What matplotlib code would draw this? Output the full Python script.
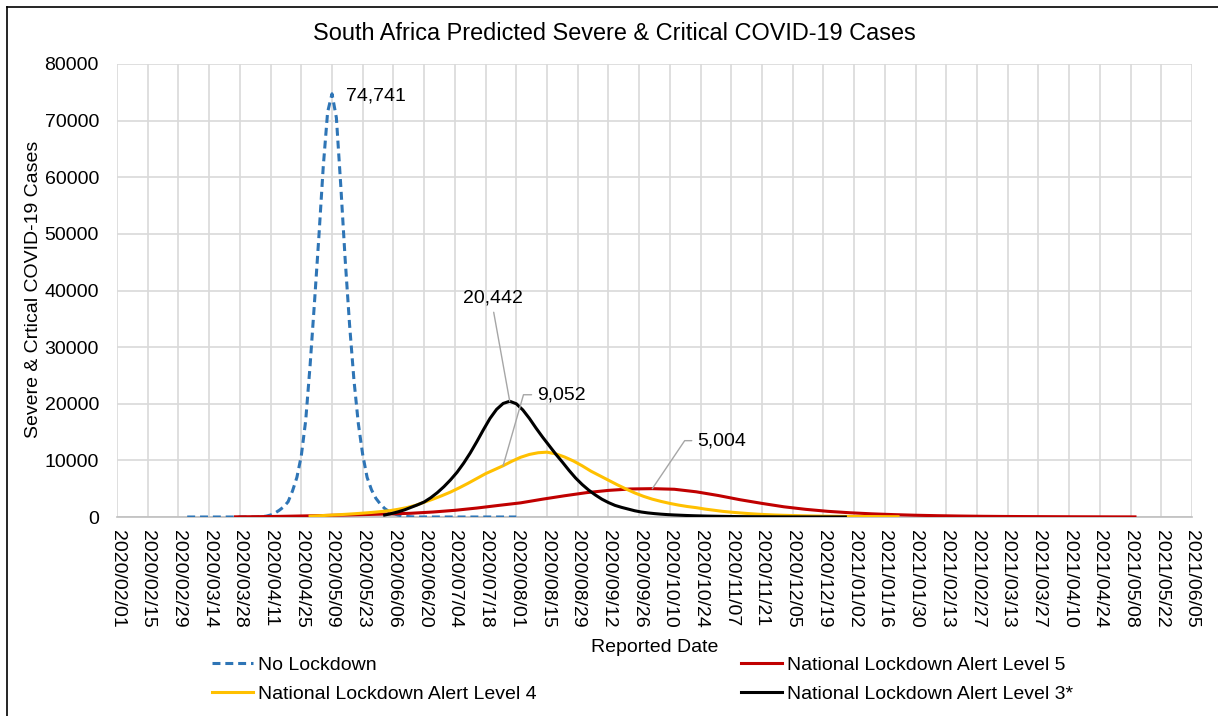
import pandas as pd
import matplotlib
matplotlib.use("Agg")
import matplotlib.pyplot as plt
import matplotlib.dates as mdates
from matplotlib.lines import Line2D

plt.rcParams['font.family'] = ['Liberation Sans', 'DejaVu Sans']

# --- Data (each series: first date, step in days, values) ---
title = "South Africa Predicted Severe & Critical COVID-19 Cases"
y_label = "Severe & Crtical COVID-19 Cases"
x_label = "Reported Date"

no_lockdown_start, no_lockdown_step = "2020-03-04", 2
no_lockdown = [0, 0, 0, 0, 0, 0, 0, 0, 0, 0, 0, 0, 0, 0, 0, 0, 0,
               50, 150, 350, 700, 1200, 1800, 2700, 4600, 7000, 10800,
               17000, 26700, 37800, 49400, 61800, 71500, 74741, 70500,
               58500, 45500, 34000, 24200, 16500, 11000, 7000, 4800, 3300,
               2300, 1500, 950, 600, 350, 200, 100, 40,
               0, 0, 0, 0, 0, 0, 0, 0, 0, 0, 0, 0, 0, 0, 0, 0, 0, 0, 0, 0,
               0, 0, 0, 0]

level5_start, level5_step = "2020-03-26", 10
level5 = [30, 60, 110, 180, 260, 350, 440, 540, 660, 880, 1180, 1580, 2050,
          2500, 3150, 3750, 4300, 4700, 4950, 5004, 4900, 4450, 3800, 3050,
          2400, 1800, 1350, 1000, 750, 560, 420, 310, 230, 170, 125, 95, 75,
          60, 45, 35, 25, 20]

level4_start, level4_step = "2020-04-29", 4
level4 = [150, 220, 300, 380, 470, 570, 680, 800, 950, 1100, 1350, 1650,
          2050, 2600, 3150, 3750, 4400, 5150, 5950, 6800, 7650, 8350, 9052,
          9850, 10550, 11050, 11350, 11450, 11150, 10600, 9900, 9050, 8100,
          7300, 6500, 5700, 4950, 4250, 3650, 3150, 2750, 2400, 2100, 1850,
          1650, 1400, 1200, 1000, 850, 720, 600, 500, 420, 350, 300, 260,
          220, 190, 160, 140, 120, 100, 90, 80, 70, 60, 55, 50]

level3_start, level3_step = "2020-06-02", 3
level3 = [350, 600, 900, 1250, 1700, 2150, 2650, 3400, 4300, 5350, 6550, 7900,
          9500, 11300, 13300, 15400, 17400, 19000, 20050, 20442, 20000, 18900,
          17400, 15700, 14100, 12600, 11100, 9700, 8250, 6900, 5750, 4750,
          3900, 3150, 2550, 2050, 1700, 1400, 1100, 880, 720, 600, 500, 420,
          360, 310, 260, 220, 190, 160, 140, 120, 100, 85, 70, 60, 50, 42,
          35, 30, 25, 21, 18, 15, 12, 10, 8, 7, 6, 5, 4]

labels = ["No Lockdown", "National Lockdown Alert Level 5",
          "National Lockdown Alert Level 4", "National Lockdown Alert Level 3*"]
colors = ["#2E75B6", "#C00000", "#FFC000", "#000000"]

# labelled points: series index, date of the point
label_points = [(0, "2020-05-09"), (3, "2020-07-29"), (2, "2020-07-26"), (1, "2020-10-02")]

tick_dates = pd.date_range("2020-02-01", "2021-06-05", freq="14D")
y_ticks = [0, 10000, 20000, 30000, 40000, 50000, 60000, 70000, 80000]


def make_series(start, step, values):
    dates = pd.date_range(start, periods=len(values), freq=f"{step}D")
    return pd.Series(values, index=dates)


series = [make_series(no_lockdown_start, no_lockdown_step, no_lockdown),
          make_series(level5_start, level5_step, level5),
          make_series(level4_start, level4_step, level4),
          make_series(level3_start, level3_step, level3)]

# --- Figure ---
W, H = 1218, 716
fig = plt.figure(figsize=(W / 100, H / 100), dpi=100)
ax = fig.add_axes([117 / W, 1 - 517 / H, (1192 - 117) / W, (517 - 64) / H])

styles = ["dashed", "-", "-", "-"]
for s, lab, col, ls in zip(series, labels, colors, styles):
    if ls == "dashed":
        ax.plot(s.index, s.values, color=col, lw=2.2, linestyle=(0, (2.6, 1.6)),
                label=lab, zorder=3)
    else:
        ax.plot(s.index, s.values, color=col, lw=2.2, label=lab, zorder=3)

ax.set_xlim(tick_dates[0], tick_dates[-1])
ax.set_ylim(0, 80000)
ax.set_xticks(tick_dates)
ax.xaxis.set_major_formatter(mdates.DateFormatter("%Y/%m/%d"))
ax.set_yticks(y_ticks)
ax.set_yticklabels([str(v) for v in y_ticks])
ax.tick_params(axis="x", labelrotation=-90, length=0, pad=9, labelsize=14)
ax.tick_params(axis="y", length=0, pad=13, labelsize=14)
for lbl in ax.get_xticklabels():
    lbl.set_va("top")
    lbl.set_ha("center")

ax.grid(True, color="#d9d9d9", lw=1.2)
ax.set_axisbelow(True)
for side in ["top", "right", "left"]:
    ax.spines[side].set_visible(False)
ax.spines["bottom"].set_color("#bfbfbf")
ax.spines["bottom"].set_linewidth(1.2)

ax.set_xlabel(x_label, fontsize=14)
ax.xaxis.set_label_coords(0.5, (517 - 639) / 453)
ax.set_ylabel(y_label, fontsize=14)
ax.yaxis.set_label_coords((42 - 117) / 1075, (517 - 289) / 453)

fig.text(614 / W, 1 - 33 / H, title, ha="center", va="center", fontsize=16.9)

# --- Data labels ---
label_style = [
    dict(offset=(14, -2), ha="left", va="center", arrow=None),
    dict(offset=(-17, 103), ha="center", va="center",
         arrow=dict(arrowstyle="-", color="#a6a6a6", lw=1, relpos=(0.5, 0.0),
                    shrinkA=2, shrinkB=0)),
    dict(offset=(34, 71), ha="left", va="center",
         arrow=dict(arrowstyle="-", color="#a6a6a6", lw=1, relpos=(0.0, 0.5),
                    shrinkA=2, shrinkB=0,
                    connectionstyle="angle,angleA=0,angleB=74,rad=0")),
    dict(offset=(45, 48), ha="left", va="center",
         arrow=dict(arrowstyle="-", color="#a6a6a6", lw=1, relpos=(0.0, 0.5),
                    shrinkA=2, shrinkB=0,
                    connectionstyle="angle,angleA=0,angleB=56,rad=0")),
]
for (idx, d), st in zip(label_points, label_style):
    d = pd.Timestamp(d)
    v = series[idx][d]
    ax.annotate(f"{v:,}", xy=(d, v), xytext=st["offset"], textcoords="offset pixels",
                ha=st["ha"], va=st["va"], fontsize=14, arrowprops=st["arrow"], zorder=5)

# --- Legend: column 1 = No Lockdown / Level 4, column 2 = Level 5 / Level 3* ---
h, l = ax.get_legend_handles_labels()
order = [0, 2, 1, 3]
ax.legend([h[i] for i in order], [l[i] for i in order], ncol=2, frameon=False,
          fontsize=14, loc="upper left", bbox_to_anchor=(212 / W, 1 - 656 / H),
          bbox_transform=fig.transFigure, borderpad=0, borderaxespad=0,
          handlelength=2.1, handletextpad=0.25, columnspacing=10.55,
          labelspacing=0.62)

# chart-area border (top and left edges visible)
fig.add_artist(Line2D([7 / W, 7 / W], [0, 1 - 7 / H], color="black", lw=1.2,
                      transform=fig.transFigure))
fig.add_artist(Line2D([7 / W, 1], [1 - 7 / H, 1 - 7 / H], color="black", lw=1.2,
                      transform=fig.transFigure))

fig.savefig("out.png", dpi=100)
